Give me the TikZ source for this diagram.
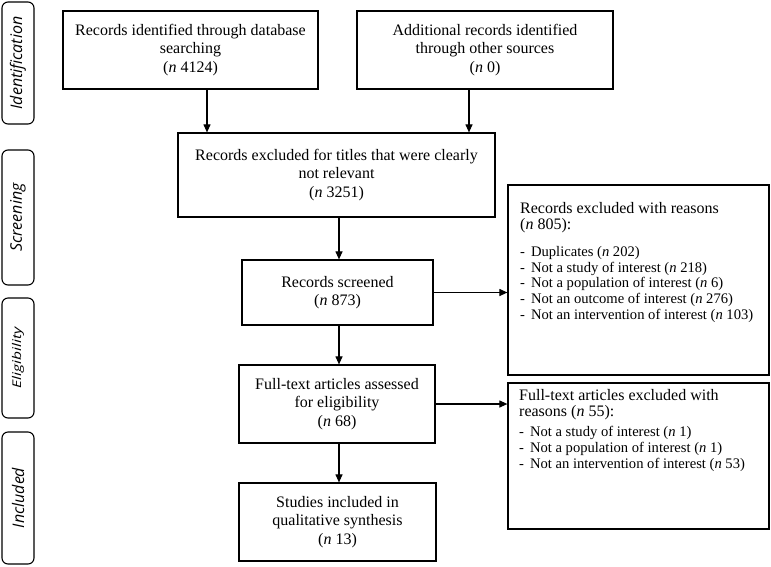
\documentclass[tikz,border=0pt]{standalone}
\usepackage{fontspec}
\usepackage{graphicx}
\setmainfont{Liberation Serif}
\newfontfamily\labfont{Open Sans}
\usetikzlibrary{arrows.meta}
\newcommand{\dashitem}{-\hspace{6pt}}
\begin{document}
\begin{tikzpicture}[x=1pt,y=-1pt,
  box/.style={draw, line width=1.2pt, inner sep=0pt, align=center, font=\fontsize{16}{18.5}\selectfont},
  headtext/.style={inner sep=0pt, anchor=north west, align=left, font=\fontsize{16}{16.5}\selectfont},
  listtext/.style={inner sep=0pt, anchor=north west, align=left, font=\fontsize{14.6}{15.8}\selectfont},
  stage/.style={draw, line width=1.1pt, rounded corners=6pt, inner sep=0pt, rotate=90, minimum height=32pt, font=\labfont\itshape\fontsize{16}{18}\selectfont},
  arr/.style={line width=1.1pt, -{Triangle[length=8pt,width=7pt]}},
]
\useasboundingbox (0,0) rectangle (771,566);

% stage labels
\node[stage, minimum width=122pt] (s1) at (18,63) {Identification};
\node[stage, minimum width=135pt] (s2) at (18,217.5) {Screening};
\node[stage, minimum width=120pt, font=\labfont\itshape\fontsize{12}{14}\selectfont] (s3) at (18,358) {\scalebox{1.3}[1]{Eligibility}};
\node[stage, minimum width=132pt] (s4) at (18,498) {Included};

% boxes
\node[box, minimum width=255pt, minimum height=78pt] (b1) at (190.5,50) {Records identified through database\\ searching\\ (\textit{n} 4124)};
\node[box, minimum width=256pt, minimum height=78pt] (b2) at (485,50) {Additional records identified\\ through other sources\\ (\textit{n} 0)};
\node[box, minimum width=317pt, minimum height=84pt] (b3) at (336.5,175) {Records excluded for titles that were clearly\\ not relevant\\ (\textit{n} 3251)};
\node[box, minimum width=191pt, minimum height=65pt] (b4) at (337.5,292.5) {Records screened\\ (\textit{n} 873)};
\node[box, minimum width=196pt, minimum height=78pt] (b6) at (337,404) {Full-text articles assessed\\ for eligibility\\ (\textit{n} 68)};
\node[box, minimum width=197pt, minimum height=78pt] (b7) at (337.5,522) {Studies included in\\ qualitative synthesis\\ (\textit{n} 13)};

\node[box, minimum width=261pt, minimum height=190pt] (b5) at (638.5,280) {};
\node[headtext] (t5a) at (520,202) {Records excluded with reasons\\ (\textit{n} 805):};
\node[listtext] (t5b) at (520,246) {\dashitem Duplicates (\textit{n} 202)\\ \dashitem Not a study of interest (\textit{n} 218)\\ \dashitem Not a population of interest (\textit{n} 6)\\ \dashitem Not an outcome of interest (\textit{n} 276)\\ \dashitem Not an intervention of interest (\textit{n} 103)};

\node[box, minimum width=261pt, minimum height=146pt] (b8) at (638.5,456) {};
\node[headtext] (t8a) at (519,389) {Full-text articles excluded with\\ reasons (\textit{n} 55):};
\node[listtext] (t8b) at (519,426) {\dashitem Not a study of interest (\textit{n} 1)\\ \dashitem Not a population of interest (\textit{n} 1)\\ \dashitem Not an intervention of interest (\textit{n} 53)};

% connectors
\coordinate (c1) at (207,0);
\coordinate (c2) at (469,0);
\coordinate (c3) at (339,0);
\draw[arr] (b1.south -| c1) -- (b3.north -| c1);
\draw[arr] (b2.south -| c2) -- (b3.north -| c2);
\draw[arr] (b3.south -| c3) -- (b4.north -| c3);
\draw[arr] (b4.south -| c3) -- (b6.north -| c3);
\draw[arr] (b6.south -| c3) -- (b7.north -| c3);
\draw[arr] (b4.east) -- (b4.east -| b5.west);
\draw[arr] (b6.east) -- (b6.east -| b8.west);
\end{tikzpicture}
\end{document}
